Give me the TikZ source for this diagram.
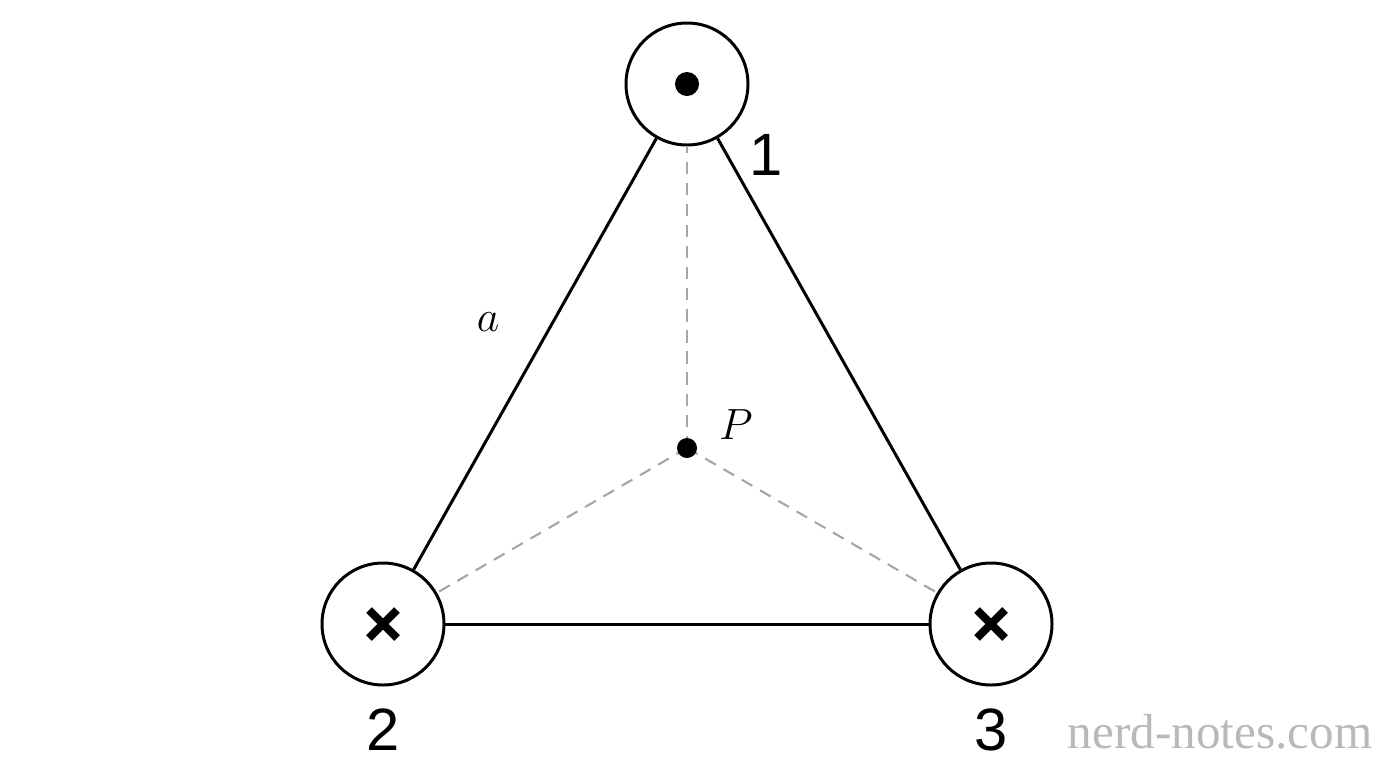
\documentclass[tikz,border=0pt]{standalone}
\usepackage{fontspec}
\usetikzlibrary{calc}
\setmainfont{Liberation Sans}
\newfontfamily\wm{Liberation Serif}
\begin{document}
\begin{tikzpicture}[x=0.02cm,y=-0.02cm,
  wire/.style={circle,draw,line width=1.7pt,minimum size=122*0.02cm,inner sep=0pt},
  side/.style={line width=1.7pt},
  guide/.style={gray!70,line width=1.2pt,dash pattern=on 7pt off 5pt},
  lab/.style={font=\fontsize{34}{34}\selectfont}]
\useasboundingbox (0,0) rectangle (1376,768);
\node[wire] (n1) at (687,84) {};
\node[wire] (n2) at (383,624) {};
\node[wire] (n3) at (991,624) {};
\fill (n1.center) circle (12*0.02cm);
\foreach \n in {n2,n3}{
  \draw[line width=4.5pt] ($(\n.center)+(-14,-14)$) -- ($(\n.center)+(14,14)$);
  \draw[line width=4.5pt] ($(\n.center)+(-14,14)$) -- ($(\n.center)+(14,-14)$);
}
\coordinate (P) at (687,448);
\draw[guide] (P) -- (n1); \draw[guide] (P) -- (n2); \draw[guide] (P) -- (n3);
\fill (P) circle (10*0.02cm);
\draw[side] (n1) -- (n2); \draw[side] (n1) -- (n3); \draw[side] (n2) -- (n3);
\node[lab] (l1) at (766,155) {1};
\node[lab] (l2) at (383,730) {2};
\node[lab] (l3) at (991,730) {3};
\node[font=\fontsize{36}{36}\selectfont] (a) at (488,322) {$a$};
\node[font=\fontsize{36}{36}\selectfont] (p) at (736,425) {$P$};
\node[font=\wm\fontsize{28}{28}\selectfont,text=gray!55] (w) at (1220,732) {nerd-notes.com};
\end{tikzpicture}
\end{document}
